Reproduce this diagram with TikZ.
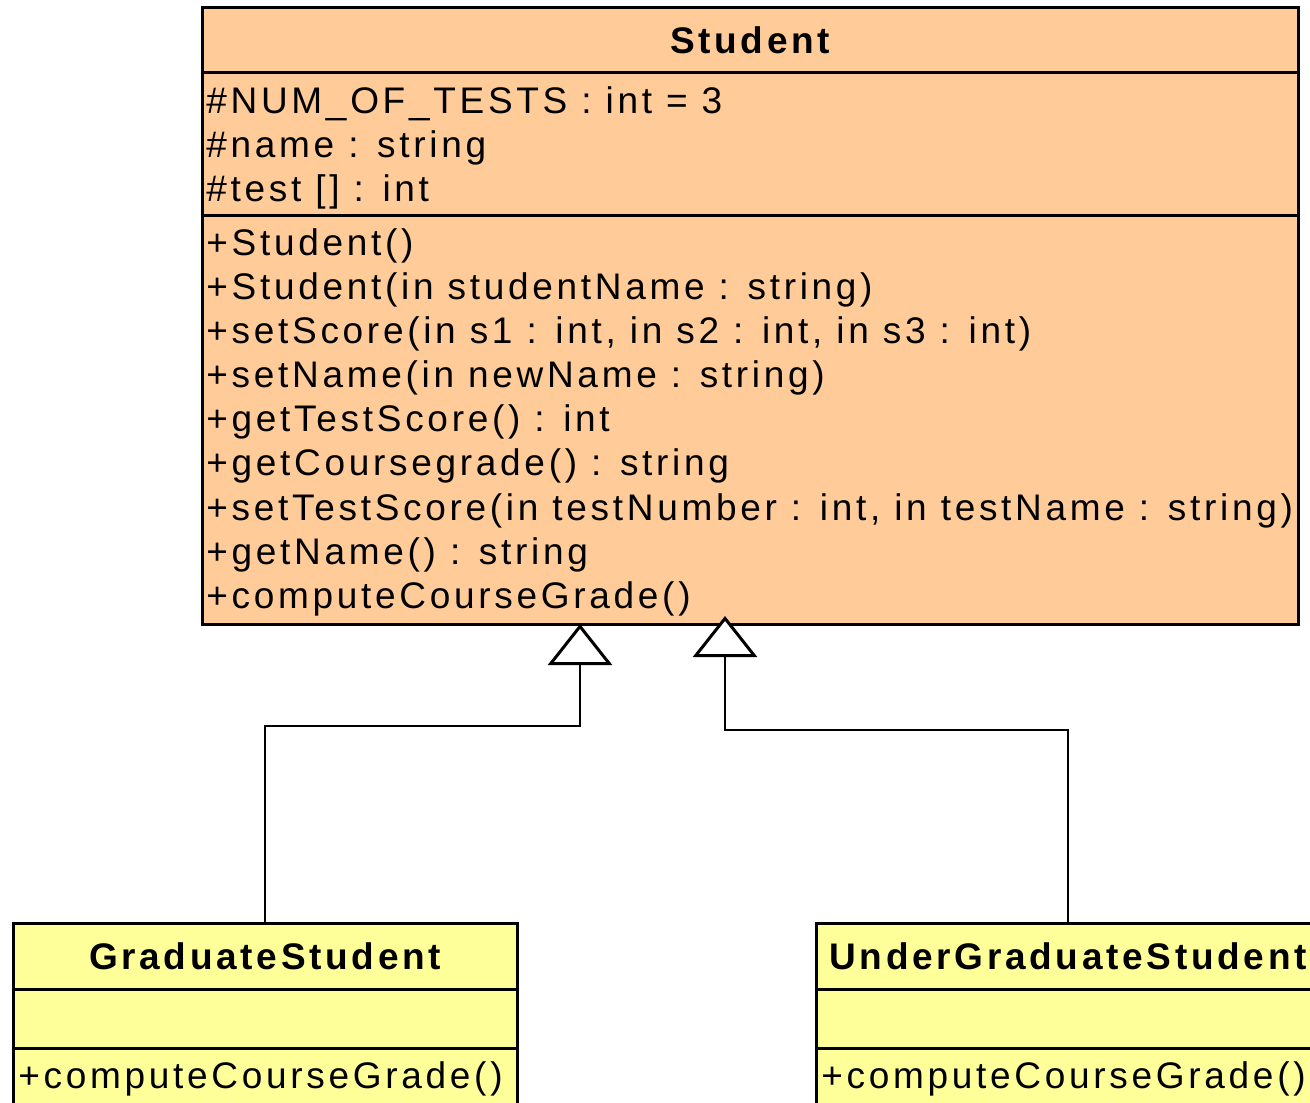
\documentclass[tikz,border=0pt]{standalone}
\usepackage{fontspec}
\usetikzlibrary{positioning,arrows.meta}
\newfontfamily\umlfont{Liberation Sans}[LetterSpace=10]
\definecolor{studentfill}{HTML}{FFCC99}
\definecolor{childfill}{HTML}{FFFF99}
\tikzset{
  classpart/.style={draw, line width=1.5pt, outer sep=0pt, inner sep=0pt, minimum width=#1},
  studentpart/.style={classpart=548pt, fill=studentfill},
  childpart/.style={classpart=252pt, fill=childfill},
  member/.style={anchor=base west, inner sep=0pt},
  inherit/.style={line width=1pt, -{Triangle[open, fill=white, length=20.5pt, width=32pt, line width=1.5pt]}}
}
\begin{document}
\begin{tikzpicture}[x=0.5pt,y=-0.5pt,font=\umlfont\fontsize{18.5}{22}\selectfont]
\useasboundingbox (0,0) rectangle (1310,1102);
\clip (0,0) rectangle (1310,1102);
% Drawing classes
% Class 1: Student
\node[studentpart, minimum height=32.5pt, anchor=north] (studentTitle) at (750,8) {\bfseries Student};
\node[studentpart, minimum height=71pt, below=0pt of studentTitle] (studentAttr) {};
\node[studentpart, minimum height=204.5pt, below=0pt of studentAttr] (studentOps) {};
\node[member] (a1) at (206,113) {\#NUM\_OF\_TESTS : int = 3};
\node[member] (a2) at (206,157) {\#name : string};
\node[member] (a3) at (206,201) {\#test [] : int};
\node[member] (m1) at (206,255) {+Student()};
\node[member] (m2) at (206,299) {+Student(in studentName : string)};
\node[member] (m3) at (206,343) {+setScore(in s1 : int, in s2 : int, in s3 : int)};
\node[member] (m4) at (206,387) {+setName(in newName : string)};
\node[member] (m5) at (206,431) {+getTestScore() : int};
\node[member] (m6) at (206,475) {+getCoursegrade() : string};
\node[member] (m7) at (206,520) {+setTestScore(in testNumber : int, in testName : string)};
\node[member] (m8) at (206,564) {+getName() : string};
\node[member] (m9) at (206,608) {+computeCourseGrade()};
% Class 2: GraduateStudent
\node[childpart, minimum height=33pt, anchor=north] (gradTitle) at (265,923) {\bfseries GraduateStudent};
\node[childpart, minimum height=29.5pt, below=0pt of gradTitle] (gradAttr) {};
\node[childpart, minimum height=50pt, below=0pt of gradAttr] (gradOps) {};
\node[member] (g1) at (18,1088) {+computeCourseGrade()};
% Class 3: UnderGraduateStudent
\node[childpart, minimum height=33pt, anchor=north] (underTitle) at (1068,923) {\bfseries UnderGraduateStudent};
\node[childpart, minimum height=29.5pt, below=0pt of underTitle] (underAttr) {};
\node[childpart, minimum height=50pt, below=0pt of underAttr] (underOps) {};
\node[member] (u1) at (821,1088) {+computeCourseGrade()};
% Done with classes; drawing generalizations
\coordinate (bendL) at (580,726);
\coordinate (bendR) at (725,730);
\draw[inherit] (gradTitle.north) |- (bendL) -- (studentOps.south -| bendL);
\draw[inherit] (underTitle.north) |- (bendR) -- ([yshift=4pt]studentOps.south -| bendR);
\end{tikzpicture}
\end{document}
